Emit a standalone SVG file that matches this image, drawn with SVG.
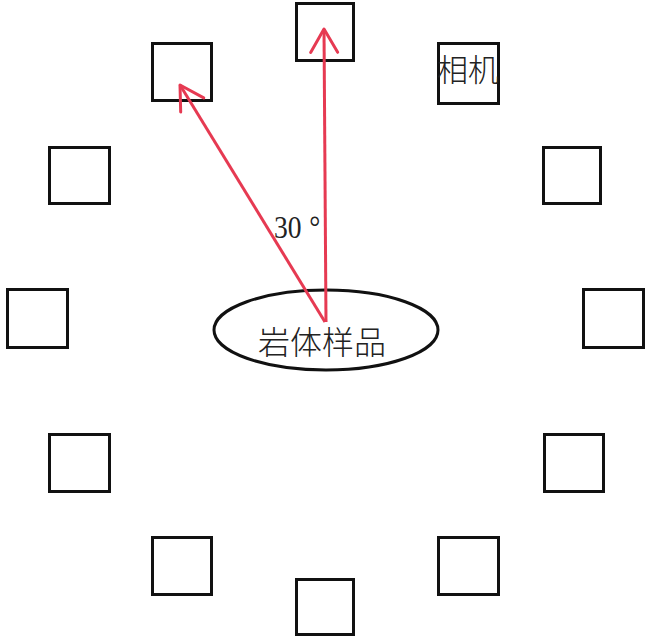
<svg xmlns="http://www.w3.org/2000/svg" width="650" height="639" viewBox="0 0 650 639">
  <style>
    .cam { fill: none; stroke: #111; stroke-width: 3; }
    .sample { fill: none; stroke: #111; stroke-width: 3; }
    .arrow { fill: none; stroke: #e63a52; stroke-width: 3; marker-end: url(#head); }
    .cjk { font-family: "Noto Sans CJK SC", "Noto Sans", sans-serif; font-weight: 300; fill: #222; }
    .num { font-family: "Liberation Serif", "DejaVu Serif", serif; fill: #222; }
  </style>
  <defs>
    <marker id="head" markerUnits="userSpaceOnUse" orient="auto" markerWidth="40" markerHeight="40" viewBox="-30 -20 40 40" refX="0" refY="0" overflow="visible">
      <path d="M-23.4,-13.5 L0,0 L-23.4,13.5" fill="none" stroke="#e63a52" stroke-width="3" stroke-linejoin="round" stroke-linecap="round"/>
    </marker>
  </defs>
  <rect width="650" height="639" fill="#fff"/>
  <g id="cam-top"><rect class="cam" x="296.5" y="3.5" width="57" height="57"/></g>
  <g id="cam-upper-left"><rect class="cam" x="152.5" y="43.5" width="59" height="57"/></g>
  <g id="cam-upper-right"><rect class="cam" x="438.5" y="43.5" width="60" height="60"/><text class="cjk" x="437" y="81" font-size="31">相机</text></g>
  <g id="cam-left-1"><rect class="cam" x="49.5" y="147.5" width="60" height="56"/></g>
  <g id="cam-right-1"><rect class="cam" x="543.5" y="147.5" width="57" height="56"/></g>
  <g id="cam-left-2"><rect class="cam" x="7.5" y="289.5" width="60" height="58"/></g>
  <g id="cam-right-2"><rect class="cam" x="583.5" y="289.5" width="60" height="58"/></g>
  <g id="cam-left-3"><rect class="cam" x="49.5" y="434.5" width="60" height="57"/></g>
  <g id="cam-right-3"><rect class="cam" x="544.5" y="434.5" width="59" height="57"/></g>
  <g id="cam-lower-left"><rect class="cam" x="152.5" y="537.5" width="59" height="57"/></g>
  <g id="cam-lower-right"><rect class="cam" x="438.5" y="537.5" width="60" height="57"/></g>
  <g id="cam-bottom"><rect class="cam" x="296.5" y="579.5" width="57" height="55"/></g>
  <g id="sample">
    <ellipse class="sample" cx="326" cy="330" rx="112" ry="40"/>
    <text class="cjk" x="258" y="354" font-size="32">岩体样品</text>
  </g>
  <g id="connectors">
    <line class="arrow" x1="326" y1="322" x2="324" y2="29"/>
    <line class="arrow" x1="325" y1="322" x2="180" y2="85"/>
  </g>
  <g id="angle-label">
    <text class="num" transform="translate(274,238) scale(0.95,1.1)" x="0" y="0" font-size="29">30<tspan dx="8">°</tspan></text>
  </g>
</svg>
